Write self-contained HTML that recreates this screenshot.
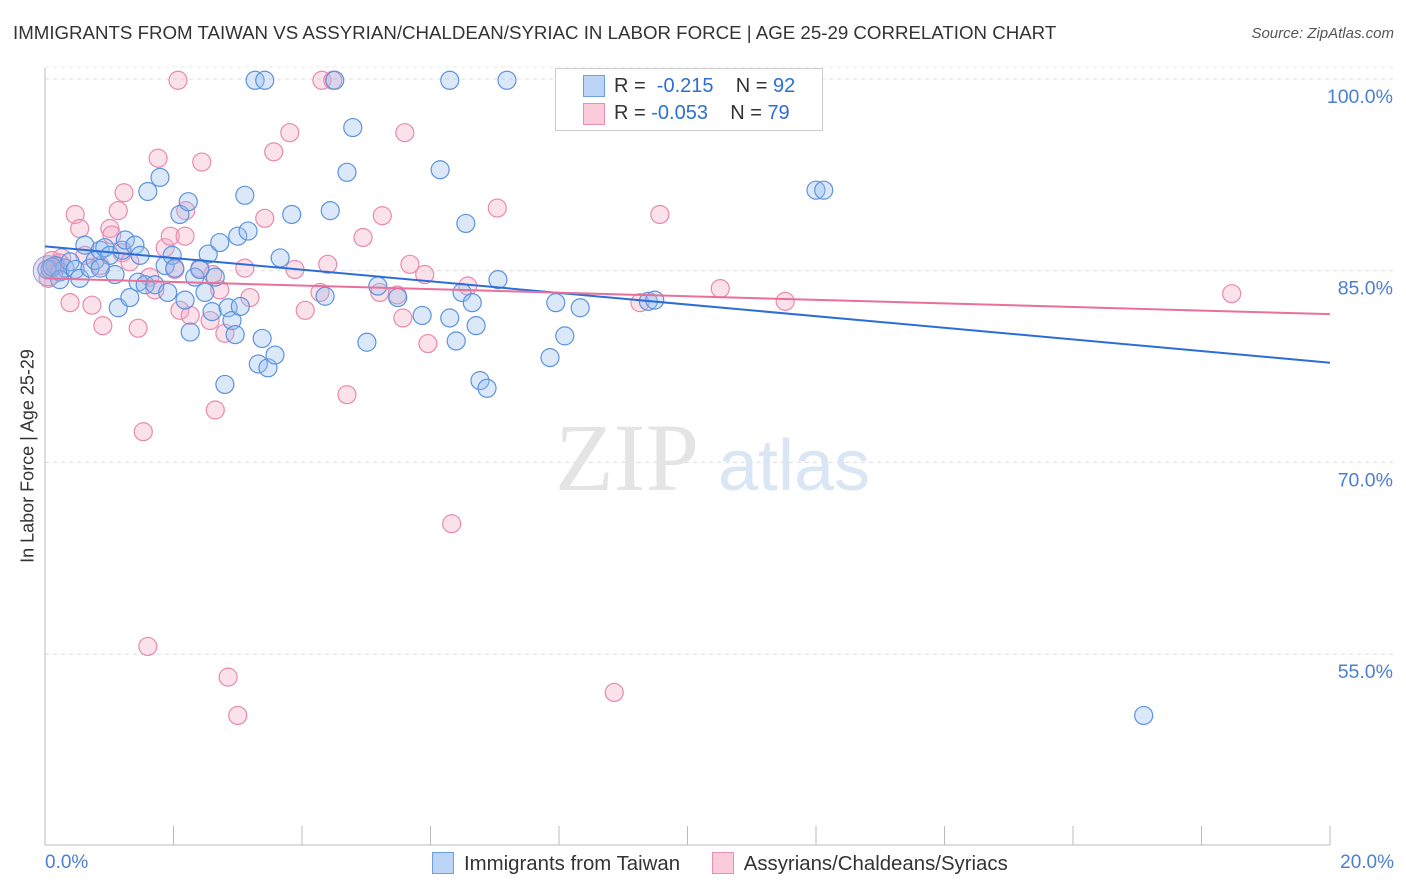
<!DOCTYPE html>
<html><head><meta charset="utf-8">
<style>
body{margin:0;background:#fff;font-family:"Liberation Sans",sans-serif;}
#wrap{position:relative;width:1406px;height:892px;overflow:hidden;}
.title{position:absolute;left:13px;top:22px;font-size:18.7px;color:#333;white-space:nowrap;}
.source{position:absolute;right:12px;top:25px;font-size:15px;color:#555;font-style:italic;}
</style></head><body>
<div id="wrap">
<div class="title">IMMIGRANTS FROM TAIWAN VS ASSYRIAN/CHALDEAN/SYRIAC IN LABOR FORCE | AGE 25-29 CORRELATION CHART</div>
<div class="source">Source: ZipAtlas.com</div>
<svg id="svg" width="1406" height="892" style="position:absolute;left:0;top:0"></svg>
</div>
<script>
const blueX=[0.08,0.16,0.23,0.31,0.39,0.47,0.54,0.62,0.70,0.78,0.86,0.93,1.01,1.09,1.14,1.20,1.25,1.32,1.40,1.45,1.48,1.56,1.60,1.71,1.79,1.87,1.91,1.98,2.02,2.10,2.18,2.23,2.26,2.33,2.41,2.49,2.54,2.60,2.65,2.72,2.80,2.85,2.91,2.96,3.00,3.04,3.11,3.16,3.27,3.32,3.38,3.42,3.47,3.58,3.66,3.84,4.36,4.44,4.51,4.70,4.79,5.01,5.18,5.49,5.87,6.15,6.30,6.30,6.40,6.49,6.55,6.65,6.71,6.77,6.88,7.05,7.19,7.86,7.95,8.09,8.33,8.56,9.39,9.49,12.0,12.12,17.1,0.03,0.11,0.23,0.86];
const blueY=[85.1,85.4,84.9,85.2,85.7,85.1,84.4,87.0,85.2,85.8,86.6,86.8,86.2,84.7,82.1,86.6,87.4,82.9,87.0,84.1,86.2,83.9,91.2,83.9,92.3,85.4,83.3,86.2,85.2,89.4,82.7,90.4,80.2,84.5,85.1,83.3,86.3,81.8,84.5,87.2,76.1,82.1,81.1,80.0,87.7,82.2,90.9,88.1,99.9,77.7,79.7,99.9,77.4,78.4,86.0,89.4,83.0,89.7,99.9,92.7,96.2,79.4,83.8,82.9,81.5,92.9,99.9,81.3,79.5,83.3,88.7,82.5,80.7,76.4,75.8,84.3,99.9,78.2,82.5,79.9,82.1,99.8,82.6,82.7,91.3,91.3,50.2,85.1,85.3,84.3,85.2];
const pinkX=[0.05,0.11,0.19,0.26,0.39,0.47,0.54,0.62,0.73,0.86,0.90,1.01,1.04,1.14,1.20,1.23,1.32,1.45,1.53,1.60,1.63,1.71,1.76,1.87,1.95,2.02,2.07,2.10,2.18,2.19,2.26,2.41,2.44,2.57,2.61,2.65,2.72,2.80,2.85,3.00,3.11,3.19,3.42,3.56,3.81,3.89,4.05,4.28,4.31,4.40,4.48,4.70,4.95,5.21,5.25,5.48,5.57,5.60,5.68,5.91,5.96,6.33,6.58,7.04,8.86,9.26,9.57,10.51,10.97,11.52,18.47,0.08,0.23];
const pinkY=[84.4,85.8,85.4,86.0,82.5,89.4,88.3,86.2,82.3,85.4,80.7,88.3,87.8,89.7,86.4,91.1,85.7,80.5,72.4,55.6,84.5,83.5,93.8,86.8,87.7,85.1,99.9,81.9,87.7,89.7,81.5,85.2,93.5,81.1,84.7,74.1,83.5,80.1,53.2,50.2,85.2,82.9,89.1,94.3,95.8,85.1,81.9,83.3,99.9,85.5,99.9,75.3,87.6,83.3,89.3,83.1,81.3,95.8,85.5,84.7,79.3,65.2,83.8,89.9,52.0,82.5,89.4,83.6,99.9,82.6,83.2,85.2,85.6];
const blueTrend=[86.9,77.8];
const pinkTrend=[84.4,81.6];
const yTicks=[100,85,70,55];
const yTickLabels=["100.0%","85.0%","70.0%","55.0%"];
const xTicks=[0,2,4,6,8,10,12,14,16,18,20];

const NS="http://www.w3.org/2000/svg",svg=document.getElementById('svg');
const X=v=>45+v*64.25, Y=v=>79+(100-v)*12.78;
function mk(t,a,p){const e=document.createElementNS(NS,t);for(const k in a)e.setAttribute(k,a[k]);(p||svg).appendChild(e);return e;}
yTicks.forEach((v,i)=>{
 const g=mk('line',{x1:45,x2:1393,y1:Y(v),y2:Y(v),stroke:'#dcdcdc','stroke-dasharray':'4,4'});
 
 
 const t=mk('text',{x:1393,y:Y(v)+24,'text-anchor':'end','font-size':19.5,fill:'#4a7fd4','font-family':'Liberation Sans'});
 t.textContent=yTickLabels[i];
 
 
});
mk('line',{x1:45,x2:1393,y1:79-12,y2:79-12,stroke:'#e8e8e8','stroke-dasharray':'4,4'});
const ax=mk('line',{x1:45,x2:45,y1:68,y2:845,stroke:'#bbb'});


const bx=mk('line',{x1:45,x2:1330,y1:845,y2:845,stroke:'#bbb'});


xTicks.forEach(v=>{const t=mk('line',{x1:X(v),x2:X(v),y1:826,y2:845,stroke:'#bbb'});
 
 });
const wm=mk('text',{x:555,y:490,'font-size':96,fill:'#e4e4e4','font-family':'Liberation Serif'});wm.textContent='ZIP';


const wm2=mk('text',{x:718,y:490,'font-size':72,fill:'#dbe6f5','font-family':'Liberation Sans'});wm2.textContent='atlas';


function pts(xs,ys,fill,stroke,name){xs.forEach((x,i)=>{const c=mk('circle',{cx:X(x),cy:Y(ys[i]),r:9,fill:fill,'fill-opacity':0.35,stroke:stroke,'stroke-width':1.2});
 
 });}
pts(pinkX,pinkY,'#f4a9c2','#e88aab','pink-point');
pts(blueX,blueY,'#98bdf0','#5b93de','blue-point');
const big=mk('circle',{cx:X(0.05),cy:Y(85.0),r:15,fill:'#b8a8d8','fill-opacity':0.35,stroke:'#9a9ad8'});


const bl=mk('line',{x1:X(0),y1:Y(blueTrend[0]),x2:X(20),y2:Y(blueTrend[1]),stroke:'#2b6fd6','stroke-width':2});


const pl=mk('line',{x1:X(0),y1:Y(pinkTrend[0]),x2:X(20),y2:Y(pinkTrend[1]),stroke:'#e8709a','stroke-width':2});


</script>
<div style="position:absolute;left:45px;top:852px;font-size:19px;color:#4a7fd4">0.0%</div>
<div style="position:absolute;right:12px;top:852px;font-size:19px;color:#4a7fd4">20.0%</div>
<div style="position:absolute;left:28px;top:456px;transform:translate(-50%,-50%) rotate(-90deg);font-size:18px;color:#333;white-space:nowrap">In Labor Force | Age 25-29</div>
<div style="position:absolute;left:555px;top:68px;width:266px;height:61px;border:1px solid #ccc;background:#fff;font-size:20px;color:#333;white-space:nowrap">
 <div style="position:absolute;left:27px;top:6px;width:20px;height:20px;background:#bcd4f5;border:1px solid #6a9fe0"></div>
 <div style="position:absolute;left:58px;top:6px">R = &nbsp;<span style="color:#2b6fd6">-0.215</span>&nbsp;&nbsp;&nbsp; N = <span style="color:#2b6fd6">92</span></div>
 <div style="position:absolute;left:27px;top:34px;width:20px;height:20px;background:#fbcadb;border:1px solid #e890ae"></div>
 <div style="position:absolute;left:58px;top:33px">R = <span style="color:#2b6fd6">-0.053</span>&nbsp;&nbsp;&nbsp; N = <span style="color:#2b6fd6">79</span></div>
</div>
<div style="position:absolute;left:432px;top:852px;font-size:20.4px;color:#333;white-space:nowrap">
 <span><span style="display:inline-block;width:20px;height:20px;background:#bcd4f5;border:1px solid #6a9fe0;vertical-align:-4px;margin-right:10px"></span>Immigrants from Taiwan</span>
 <span style="margin-left:26px"><span style="display:inline-block;width:20px;height:20px;background:#fbcadb;border:1px solid #e890ae;vertical-align:-4px;margin-right:10px"></span>Assyrians/Chaldeans/Syriacs</span>
</div>
</body></html>
